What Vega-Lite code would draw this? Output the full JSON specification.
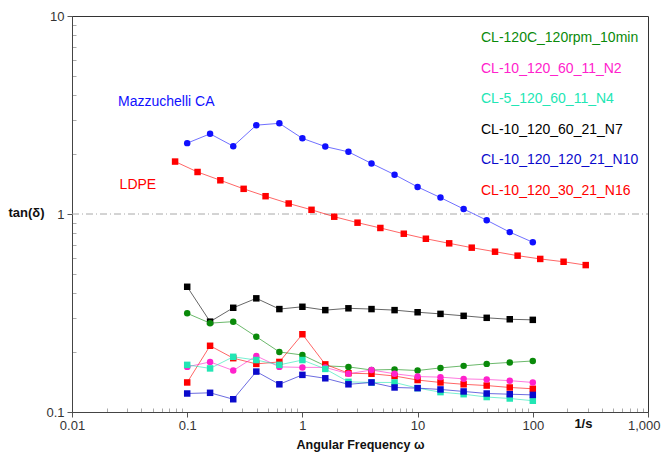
{
  "$schema": "https://vega.github.io/schema/vega-lite/v6.json",
  "width": 576,
  "height": 396,
  "autosize": {"type": "none"},
  "padding": {"left": 72, "top": 16, "right": 15, "bottom": 43},
  "background": "white",
  "config": {"view": {"stroke": "#333", "strokeWidth": 1}, "font": "Liberation Sans"},
  "datasets": {
    "pts": [
      {"s": "Mazzuchelli CA", "x": 0.1, "y": 2.28}, {"s": "Mazzuchelli CA", "x": 0.158, "y": 2.54}, {"s": "Mazzuchelli CA", "x": 0.251, "y": 2.2}, {"s": "Mazzuchelli CA", "x": 0.398, "y": 2.81}, {"s": "Mazzuchelli CA", "x": 0.631, "y": 2.87}, {"s": "Mazzuchelli CA", "x": 1, "y": 2.41}, {"s": "Mazzuchelli CA", "x": 1.58, "y": 2.19}, {"s": "Mazzuchelli CA", "x": 2.51, "y": 2.06}, {"s": "Mazzuchelli CA", "x": 3.98, "y": 1.8}, {"s": "Mazzuchelli CA", "x": 6.31, "y": 1.58}, {"s": "Mazzuchelli CA", "x": 10, "y": 1.37}, {"s": "Mazzuchelli CA", "x": 15.8, "y": 1.21}, {"s": "Mazzuchelli CA", "x": 25.1, "y": 1.06}, {"s": "Mazzuchelli CA", "x": 39.8, "y": 0.93}, {"s": "Mazzuchelli CA", "x": 63.1, "y": 0.81}, {"s": "Mazzuchelli CA", "x": 100, "y": 0.72},
      {"s": "LDPE", "x": 0.0785, "y": 1.84}, {"s": "LDPE", "x": 0.123, "y": 1.63}, {"s": "LDPE", "x": 0.194, "y": 1.48}, {"s": "LDPE", "x": 0.309, "y": 1.34}, {"s": "LDPE", "x": 0.479, "y": 1.23}, {"s": "LDPE", "x": 0.76, "y": 1.13}, {"s": "LDPE", "x": 1.2, "y": 1.05}, {"s": "LDPE", "x": 1.89, "y": 0.969}, {"s": "LDPE", "x": 3.01, "y": 0.904}, {"s": "LDPE", "x": 4.75, "y": 0.85}, {"s": "LDPE", "x": 7.59, "y": 0.795}, {"s": "LDPE", "x": 11.8, "y": 0.75}, {"s": "LDPE", "x": 18.8, "y": 0.711}, {"s": "LDPE", "x": 29.5, "y": 0.676}, {"s": "LDPE", "x": 47, "y": 0.645}, {"s": "LDPE", "x": 73.8, "y": 0.616}, {"s": "LDPE", "x": 116, "y": 0.593}, {"s": "LDPE", "x": 185, "y": 0.574}, {"s": "LDPE", "x": 288, "y": 0.552},
      {"s": "CL-10_120_60_21_N7", "x": 0.1, "y": 0.429}, {"s": "CL-10_120_60_21_N7", "x": 0.158, "y": 0.286}, {"s": "CL-10_120_60_21_N7", "x": 0.251, "y": 0.336}, {"s": "CL-10_120_60_21_N7", "x": 0.398, "y": 0.375}, {"s": "CL-10_120_60_21_N7", "x": 0.631, "y": 0.331}, {"s": "CL-10_120_60_21_N7", "x": 1, "y": 0.34}, {"s": "CL-10_120_60_21_N7", "x": 1.58, "y": 0.327}, {"s": "CL-10_120_60_21_N7", "x": 2.51, "y": 0.334}, {"s": "CL-10_120_60_21_N7", "x": 3.98, "y": 0.331}, {"s": "CL-10_120_60_21_N7", "x": 6.31, "y": 0.327}, {"s": "CL-10_120_60_21_N7", "x": 10, "y": 0.319}, {"s": "CL-10_120_60_21_N7", "x": 15.8, "y": 0.313}, {"s": "CL-10_120_60_21_N7", "x": 25.1, "y": 0.306}, {"s": "CL-10_120_60_21_N7", "x": 39.8, "y": 0.299}, {"s": "CL-10_120_60_21_N7", "x": 63.1, "y": 0.294}, {"s": "CL-10_120_60_21_N7", "x": 100, "y": 0.292},
      {"s": "CL-120C_120rpm_10min", "x": 0.1, "y": 0.315}, {"s": "CL-120C_120rpm_10min", "x": 0.158, "y": 0.281}, {"s": "CL-120C_120rpm_10min", "x": 0.251, "y": 0.286}, {"s": "CL-120C_120rpm_10min", "x": 0.398, "y": 0.24}, {"s": "CL-120C_120rpm_10min", "x": 0.631, "y": 0.201}, {"s": "CL-120C_120rpm_10min", "x": 1, "y": 0.194}, {"s": "CL-120C_120rpm_10min", "x": 1.58, "y": 0.171}, {"s": "CL-120C_120rpm_10min", "x": 2.51, "y": 0.169}, {"s": "CL-120C_120rpm_10min", "x": 3.98, "y": 0.163}, {"s": "CL-120C_120rpm_10min", "x": 6.31, "y": 0.164}, {"s": "CL-120C_120rpm_10min", "x": 10, "y": 0.162}, {"s": "CL-120C_120rpm_10min", "x": 15.8, "y": 0.167}, {"s": "CL-120C_120rpm_10min", "x": 25.1, "y": 0.171}, {"s": "CL-120C_120rpm_10min", "x": 39.8, "y": 0.175}, {"s": "CL-120C_120rpm_10min", "x": 63.1, "y": 0.178}, {"s": "CL-120C_120rpm_10min", "x": 100, "y": 0.181},
      {"s": "CL-10_120_30_21_N16", "x": 0.1, "y": 0.141}, {"s": "CL-10_120_30_21_N16", "x": 0.158, "y": 0.216}, {"s": "CL-10_120_30_21_N16", "x": 0.251, "y": 0.187}, {"s": "CL-10_120_30_21_N16", "x": 0.398, "y": 0.175}, {"s": "CL-10_120_30_21_N16", "x": 0.631, "y": 0.179}, {"s": "CL-10_120_30_21_N16", "x": 1, "y": 0.247}, {"s": "CL-10_120_30_21_N16", "x": 1.58, "y": 0.174}, {"s": "CL-10_120_30_21_N16", "x": 2.51, "y": 0.157}, {"s": "CL-10_120_30_21_N16", "x": 3.98, "y": 0.156}, {"s": "CL-10_120_30_21_N16", "x": 6.31, "y": 0.152}, {"s": "CL-10_120_30_21_N16", "x": 10, "y": 0.145}, {"s": "CL-10_120_30_21_N16", "x": 15.8, "y": 0.141}, {"s": "CL-10_120_30_21_N16", "x": 25.1, "y": 0.138}, {"s": "CL-10_120_30_21_N16", "x": 39.8, "y": 0.136}, {"s": "CL-10_120_30_21_N16", "x": 63.1, "y": 0.133}, {"s": "CL-10_120_30_21_N16", "x": 100, "y": 0.131},
      {"s": "CL-10_120_60_11_N2", "x": 0.1, "y": 0.169}, {"s": "CL-10_120_60_11_N2", "x": 0.158, "y": 0.179}, {"s": "CL-10_120_60_11_N2", "x": 0.251, "y": 0.162}, {"s": "CL-10_120_60_11_N2", "x": 0.398, "y": 0.192}, {"s": "CL-10_120_60_11_N2", "x": 0.631, "y": 0.169}, {"s": "CL-10_120_60_11_N2", "x": 1, "y": 0.168}, {"s": "CL-10_120_60_11_N2", "x": 1.58, "y": 0.168}, {"s": "CL-10_120_60_11_N2", "x": 2.51, "y": 0.156}, {"s": "CL-10_120_60_11_N2", "x": 3.98, "y": 0.163}, {"s": "CL-10_120_60_11_N2", "x": 6.31, "y": 0.156}, {"s": "CL-10_120_60_11_N2", "x": 10, "y": 0.151}, {"s": "CL-10_120_60_11_N2", "x": 15.8, "y": 0.15}, {"s": "CL-10_120_60_11_N2", "x": 25.1, "y": 0.147}, {"s": "CL-10_120_60_11_N2", "x": 39.8, "y": 0.146}, {"s": "CL-10_120_60_11_N2", "x": 63.1, "y": 0.144}, {"s": "CL-10_120_60_11_N2", "x": 100, "y": 0.141},
      {"s": "CL-5_120_60_11_N4", "x": 0.1, "y": 0.173}, {"s": "CL-5_120_60_11_N4", "x": 0.158, "y": 0.166}, {"s": "CL-5_120_60_11_N4", "x": 0.251, "y": 0.19}, {"s": "CL-5_120_60_11_N4", "x": 0.398, "y": 0.183}, {"s": "CL-5_120_60_11_N4", "x": 0.631, "y": 0.173}, {"s": "CL-5_120_60_11_N4", "x": 1, "y": 0.183}, {"s": "CL-5_120_60_11_N4", "x": 1.58, "y": 0.165}, {"s": "CL-5_120_60_11_N4", "x": 2.51, "y": 0.142}, {"s": "CL-5_120_60_11_N4", "x": 3.98, "y": 0.141}, {"s": "CL-5_120_60_11_N4", "x": 6.31, "y": 0.141}, {"s": "CL-5_120_60_11_N4", "x": 10, "y": 0.132}, {"s": "CL-5_120_60_11_N4", "x": 15.8, "y": 0.126}, {"s": "CL-5_120_60_11_N4", "x": 25.1, "y": 0.123}, {"s": "CL-5_120_60_11_N4", "x": 39.8, "y": 0.119}, {"s": "CL-5_120_60_11_N4", "x": 63.1, "y": 0.117}, {"s": "CL-5_120_60_11_N4", "x": 100, "y": 0.114},
      {"s": "CL-10_120_120_21_N10", "x": 0.1, "y": 0.124}, {"s": "CL-10_120_120_21_N10", "x": 0.158, "y": 0.125}, {"s": "CL-10_120_120_21_N10", "x": 0.251, "y": 0.116}, {"s": "CL-10_120_120_21_N10", "x": 0.398, "y": 0.16}, {"s": "CL-10_120_120_21_N10", "x": 0.631, "y": 0.138}, {"s": "CL-10_120_120_21_N10", "x": 1, "y": 0.154}, {"s": "CL-10_120_120_21_N10", "x": 1.58, "y": 0.148}, {"s": "CL-10_120_120_21_N10", "x": 2.51, "y": 0.138}, {"s": "CL-10_120_120_21_N10", "x": 3.98, "y": 0.141}, {"s": "CL-10_120_120_21_N10", "x": 6.31, "y": 0.133}, {"s": "CL-10_120_120_21_N10", "x": 10, "y": 0.132}, {"s": "CL-10_120_120_21_N10", "x": 15.8, "y": 0.13}, {"s": "CL-10_120_120_21_N10", "x": 25.1, "y": 0.127}, {"s": "CL-10_120_120_21_N10", "x": 39.8, "y": 0.124}, {"s": "CL-10_120_120_21_N10", "x": 63.1, "y": 0.123}, {"s": "CL-10_120_120_21_N10", "x": 100, "y": 0.122}
    ],
    "ann": [
      {"t": "Mazzuchelli CA", "s": "Mazzuchelli CA", "x": 0.0251, "y": 3.68},
      {"t": "LDPE", "s": "LDPE", "x": 0.0259, "y": 1.4}
    ],
    "ref": [{"s": "ref", "x": 0.01, "y": 1}, {"s": "ref", "x": 1000, "y": 1}],
    "unit": [{"s": "unit", "t": "1/s", "x": 275, "y": 0.1}]
  },
  "encoding": {
    "x": {"field": "x", "type": "quantitative", "scale": {"type": "log", "domain": [0.01, 1000]},
      "axis": {
        "title": "Angular Frequency ω", "titleFontWeight": "bold", "titleFontSize": 12.5, "titleColor": "#111", "titlePadding": 6,
        "values": [0.01, 0.02, 0.03, 0.04, 0.05, 0.06, 0.07, 0.08, 0.09, 0.1, 0.2, 0.3, 0.4, 0.5, 0.6, 0.7, 0.8, 0.9, 1, 2, 3, 4, 5, 6, 7, 8, 9, 10, 20, 30, 40, 50, 60, 70, 80, 90, 100, 200, 300, 400, 500, 600, 700, 800, 900, 1000],
        "labelExpr": "abs(log(datum.value)/LN10 - round(log(datum.value)/LN10)) < 1e-6 ? format(datum.value, ',') : ''",
        "tickSize": {"condition": {"test": "abs(log(datum.value)/LN10 - round(log(datum.value)/LN10)) < 1e-6", "value": 5}, "value": -4},
        "tickColor": {"condition": {"test": "abs(log(datum.value)/LN10 - round(log(datum.value)/LN10)) < 1e-6", "value": "#555"}, "value": "#aaa"},
        "labelAlign": {"condition": {"test": "datum.value >= 999", "value": "right"}, "value": "center"},
        "labelOffset": {"condition": {"test": "datum.value >= 999", "value": 12}, "value": 0},
        "labelPadding": 2, "labelFontSize": 13, "labelColor": "#333", "labelOverlap": false, "labelFlush": false,
        "grid": false, "domainColor": "#444"
      }
    },
    "y": {"field": "y", "type": "quantitative", "scale": {"type": "log", "domain": [0.1, 10]},
      "axis": {
        "title": "tan(δ)", "titleAngle": 0, "titleAlign": "left", "titleBaseline": "middle", "titleX": -64, "titleY": 196,
        "titleFontWeight": "bold", "titleFontSize": 13, "titleColor": "#111",
        "values": [0.1, 0.2, 0.3, 0.4, 0.5, 0.6, 0.7, 0.8, 0.9, 1, 2, 3, 4, 5, 6, 7, 8, 9, 10],
        "labelExpr": "abs(log(datum.value)/LN10 - round(log(datum.value)/LN10)) < 1e-6 ? format(datum.value, '~g') : ''",
        "tickSize": {"condition": {"test": "abs(log(datum.value)/LN10 - round(log(datum.value)/LN10)) < 1e-6", "value": 5}, "value": -4},
        "tickColor": {"condition": {"test": "abs(log(datum.value)/LN10 - round(log(datum.value)/LN10)) < 1e-6", "value": "#555"}, "value": "#aaa"},
        "labelPadding": 3, "labelFontSize": 13, "labelColor": "#333", "labelOverlap": false, "labelFlush": false,
        "grid": false, "domainColor": "#444"
      }
    }
  },
  "layer": [
    {
      "data": {"name": "ref"},
      "mark": {"type": "line", "color": "#a8a8a8", "strokeDash": [7, 3, 1, 3], "strokeWidth": 1},
      "encoding": {}
    },
    {
      "data": {"name": "pts"},
      "mark": {"type": "line", "strokeWidth": 1, "opacity": 0.6},
      "encoding": {
        "color": {"field": "s", "type": "nominal",
          "scale": {
            "domain": ["CL-120C_120rpm_10min", "CL-10_120_60_11_N2", "CL-5_120_60_11_N4", "CL-10_120_60_21_N7", "CL-10_120_120_21_N10", "CL-10_120_30_21_N16", "Mazzuchelli CA", "LDPE"],
            "range": ["#0a8a0a", "#ff22cc", "#22e6b4", "#000000", "#0a0acc", "#ff0000", "#1010ff", "#ff0000"]
          },
          "legend": {
            "orient": "none", "legendX": 395, "legendY": 15, "title": null,
            "values": ["CL-120C_120rpm_10min", "CL-10_120_60_11_N2", "CL-5_120_60_11_N4", "CL-10_120_60_21_N7", "CL-10_120_120_21_N10", "CL-10_120_30_21_N16"],
            "symbolSize": 0, "symbolStrokeWidth": 0, "labelOffset": 0, "labelFontSize": 14, "rowPadding": 16.5,
            "labelLimit": 300,
            "labelColor": {"expr": "scale('color', datum.value)"}
          }
        }
      }
    },
    {
      "data": {"name": "pts"},
      "mark": {"type": "point", "filled": true, "opacity": 1, "size": 42},
      "encoding": {
        "color": {"field": "s", "type": "nominal", "legend": null},
        "shape": {"field": "s", "type": "nominal",
          "scale": {
            "domain": ["CL-120C_120rpm_10min", "CL-10_120_60_11_N2", "CL-5_120_60_11_N4", "CL-10_120_60_21_N7", "CL-10_120_120_21_N10", "CL-10_120_30_21_N16", "Mazzuchelli CA", "LDPE"],
            "range": ["circle", "circle", "square", "square", "square", "square", "circle", "square"]
          },
          "legend": null
        }
      }
    },
    {
      "data": {"name": "ann"},
      "mark": {"type": "text", "align": "left", "baseline": "middle", "fontSize": 14},
      "encoding": {
        "text": {"field": "t"},
        "color": {"field": "s", "type": "nominal", "legend": null}
      }
    },
    {
      "data": {"name": "unit"},
      "mark": {"type": "text", "align": "center", "baseline": "middle", "fontSize": 13, "fontWeight": "bold", "dy": 12, "color": "#111"},
      "encoding": {
        "text": {"field": "t"}
      }
    }
  ]
}
